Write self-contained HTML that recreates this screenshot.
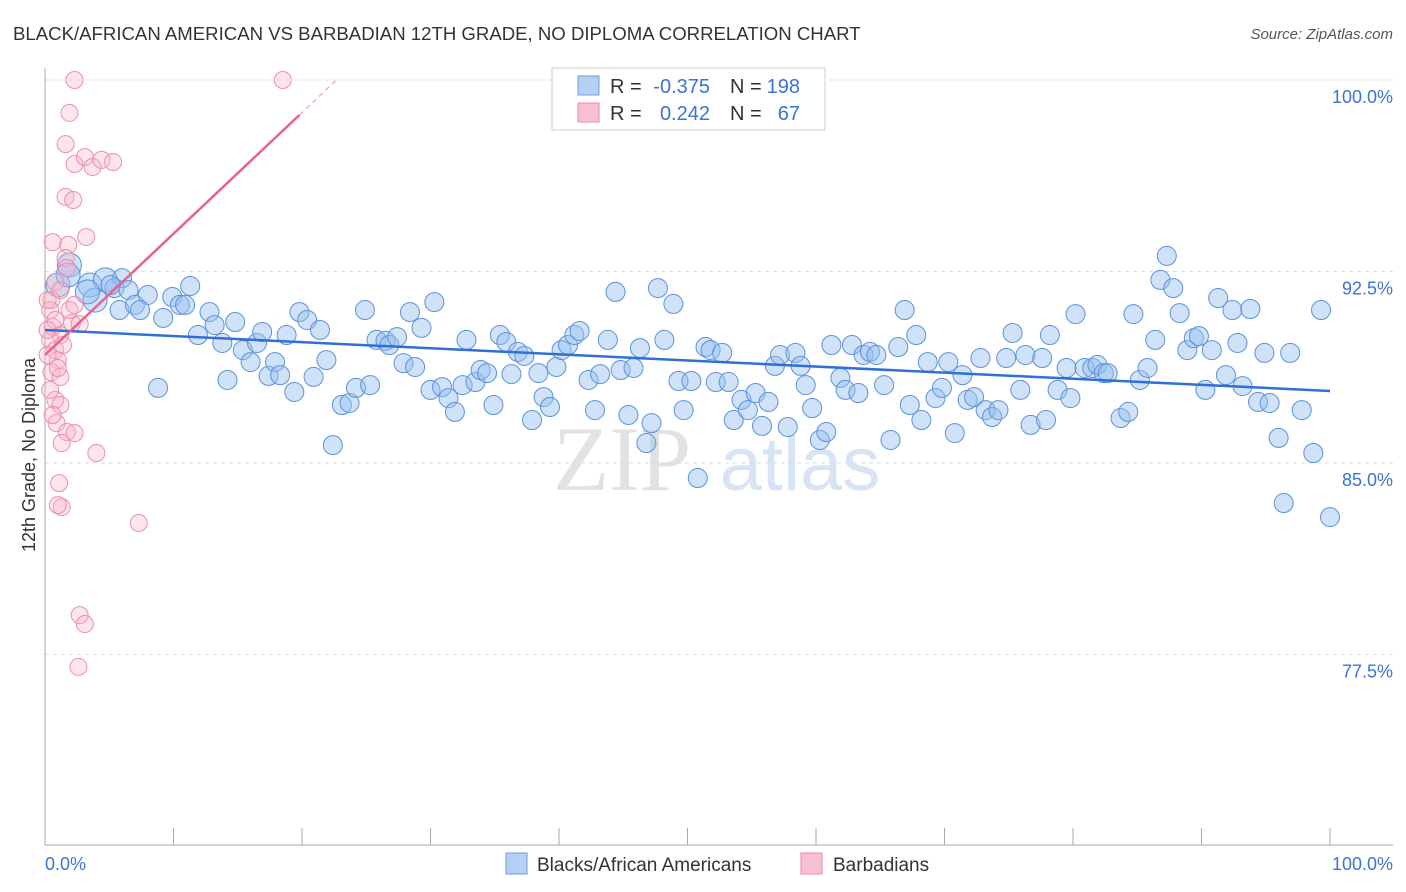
<!DOCTYPE html>
<html><head><meta charset="utf-8"><style>
body{margin:0;background:#fff;font-family:"Liberation Sans",sans-serif;}
svg{display:block}
</style></head><body>
<svg id="chart" width="1406" height="892">
<text x="13" y="40" font-size="18.6" fill="#333">BLACK/AFRICAN AMERICAN VS BARBADIAN 12TH GRADE, NO DIPLOMA CORRELATION CHART</text>
<text x="1393" y="39" font-size="15" fill="#555" font-style="italic" text-anchor="end">Source: ZipAtlas.com</text>
<g>
<text x="622" y="490" font-size="92" font-family="Liberation Serif" fill="#e2e2e2" text-anchor="middle">ZIP</text>
<text x="800" y="490" font-size="76" fill="#d6e4f4" text-anchor="middle">atlas</text>
</g>
<g id="grid"></g>
<g id="axes"></g>
<g id="pts"></g>
<g id="trends"></g>
<text transform="translate(35,455) rotate(-90)" font-size="18" fill="#333" text-anchor="middle">12th Grade, No Diploma</text>
<text x="45" y="870" font-size="18" fill="#3b74d4">0.0%</text>
<text x="1393" y="870" font-size="18" fill="#3b74d4" text-anchor="end">100.0%</text>
<g>
<rect x="552" y="68" width="273" height="62" fill="#fff" stroke="#ccc"/>
<rect x="578" y="76" width="21" height="19" fill="#b7cff3" stroke="#6c9be0"/>
<rect x="578" y="103" width="21" height="19" fill="#f8c0d0" stroke="#eb8aa8"/>
<g font-size="20" fill="#333">
<text x="610" y="93">R =</text><text x="710" y="93" text-anchor="end" fill="#3b74d4">-0.375</text>
<text x="730" y="93">N =</text><text x="800" y="93" text-anchor="end" fill="#3b74d4">198</text>
<text x="610" y="120">R =</text><text x="710" y="120" text-anchor="end" fill="#3b74d4">0.242</text>
<text x="730" y="120">N =</text><text x="800" y="120" text-anchor="end" fill="#3b74d4">67</text>
</g>
</g>
<g>
<rect x="506" y="853" width="21" height="21" fill="#b7cff3" stroke="#6c9be0"/>
<text x="537" y="871" font-size="19" fill="#333">Blacks/African Americans</text>
<rect x="801" y="853" width="21" height="21" fill="#f8c0d0" stroke="#eb8aa8"/>
<text x="833" y="871" font-size="19" fill="#333">Barbadians</text>
</g>
</svg>
<script>
const yTicks=[100,92.5,85,77.5];
const yTickLabels=["100.0%","92.5%","85.0%","77.5%"];
const xTicks=[0,10,20,30,40,50,60,70,80,90,100];
const blueX=[1.9,1.0,1.8,3.5,3.9,4.7,6.0,5.4,6.5,5.8,7.0,8.0,7.4,9.2,9.9,10.5,11.3,10.9,11.9,12.8,13.2,14.2,13.8,14.8,15.4,16.0,16.5,16.9,17.4,17.9,18.3,18.8,19.4,19.8,20.4,20.9,21.4,21.9,22.4,23.1,23.7,24.2,24.9,25.3,25.8,26.5,26.8,27.4,27.9,28.4,28.8,29.3,30.0,30.3,30.9,31.4,31.9,32.5,32.8,33.5,33.9,34.4,34.9,35.4,35.9,36.3,36.8,37.3,37.9,38.4,38.8,39.3,39.8,40.2,40.7,41.2,41.6,42.3,42.8,43.2,43.8,44.4,44.8,45.4,45.8,46.3,46.8,47.2,47.7,48.2,48.9,49.3,49.7,50.3,50.8,51.4,51.8,52.2,52.7,53.2,53.6,54.2,54.7,55.3,55.8,56.3,56.8,57.2,57.8,58.4,58.8,59.2,59.7,60.3,60.8,61.2,61.9,62.3,62.8,63.3,63.7,64.2,64.7,65.3,65.8,66.4,66.9,67.3,67.8,68.2,68.7,69.3,69.8,70.3,70.8,71.4,71.8,72.3,72.8,73.2,73.7,74.2,74.8,75.3,75.9,76.3,76.7,77.6,77.9,78.2,78.8,79.5,79.8,80.2,80.9,81.5,81.9,82.4,82.7,83.7,84.3,84.7,85.2,85.8,86.4,86.8,87.3,87.8,88.3,88.9,89.4,89.8,90.3,90.8,91.3,91.9,92.4,92.8,93.2,93.8,94.4,94.9,95.3,96.0,96.4,96.9,97.8,98.7,99.3,100.0,8.8,5.1,3.3];
const blueY=[92.75,91.97,92.36,91.97,91.38,92.17,92.24,91.85,91.77,90.99,91.19,91.58,90.99,90.68,91.50,91.19,91.93,91.19,90.01,90.91,90.40,88.25,89.70,90.52,89.42,88.95,89.70,90.13,88.41,88.95,88.44,90.01,87.78,90.91,90.60,88.37,90.21,89.03,85.70,87.27,87.35,87.94,90.99,88.05,89.82,89.78,89.62,89.93,88.91,90.91,88.76,90.29,87.86,91.30,87.97,87.54,87.00,88.05,89.82,88.17,88.64,88.52,87.27,90.01,89.74,88.48,89.35,89.19,86.68,88.52,87.58,87.19,88.76,89.42,89.62,90.01,90.17,88.25,87.07,88.48,89.82,91.70,88.64,86.88,88.72,89.50,85.78,86.56,91.85,89.82,91.23,88.21,87.07,88.21,84.41,89.54,89.42,88.17,89.31,88.17,86.68,87.47,87.07,87.74,86.45,87.39,88.80,89.23,86.41,89.31,88.80,88.05,87.15,85.90,86.21,89.62,88.33,87.86,89.62,87.74,89.23,89.35,89.23,88.05,85.90,89.54,90.99,87.27,90.01,86.68,88.95,87.54,87.94,88.95,86.17,88.44,87.47,87.58,89.11,87.07,86.80,87.07,89.11,90.09,87.86,89.23,86.49,89.11,86.68,90.01,87.86,88.72,87.54,90.83,88.72,88.72,88.84,88.52,88.52,86.76,87.00,90.83,88.25,88.72,89.82,92.17,93.11,91.85,90.87,89.42,89.89,89.97,87.86,89.42,91.46,88.44,90.99,89.70,88.01,91.03,87.39,89.31,87.35,85.98,83.43,89.31,87.07,85.39,90.99,82.88,87.94,91.97,91.70];
const pinkX=[2.3,18.5,1.9,1.6,2.3,3.1,3.7,4.4,5.3,1.6,2.2,0.6,1.8,3.2,1.6,1.7,0.8,1.2,0.5,0.6,1.2,2.1,2.7,0.4,0.8,1.0,0.5,1.2,1.0,0.8,1.2,0.9,1.7,1.3,2.3,4.0,1.1,1.3,1.0,7.3,2.7,3.1,2.6,1.9,2.3,0.4,0.2,0.8,0.2,0.2,1.4,0.4,0.6];
const pinkY=[100.0,100.0,98.71,97.49,96.71,96.98,96.59,96.87,96.79,95.42,95.30,93.65,93.54,93.85,93.03,92.64,92.09,91.77,91.38,90.33,90.01,90.48,90.44,89.82,89.42,89.03,88.56,88.37,88.72,87.47,87.27,86.56,86.21,85.78,86.17,85.39,84.21,83.27,83.35,82.65,79.04,78.69,77.01,90.99,91.19,90.99,91.38,90.60,90.21,89.23,89.62,87.86,86.88];
const blueTrend=[90.21,87.82];
const pinkTrend=[89.23,98.63];
const pinkTrendEnd=19.8;

const NS="http://www.w3.org/2000/svg";
const X=v=>45+v*12.85;
const Y=v=>80+(100-v)*25.53;
function mk(tag,attrs,parent){const e=document.createElementNS(NS,tag);for(const k in attrs)e.setAttribute(k,attrs[k]);parent.appendChild(e);return e;}
const grid=document.getElementById('grid'),axes=document.getElementById('axes'),pts=document.getElementById('pts'),tr=document.getElementById('trends');
yTicks.forEach((t,i)=>{
 const l=mk('line',{x1:45,x2:1393,y1:Y(t),y2:Y(t),stroke:'#ddd','stroke-dasharray':'4,4'},grid);
 
 
 const tx=mk('text',{x:1393,y:Y(t)+23,'font-size':18,fill:'#3b74d4','text-anchor':'end'},grid);
 tx.textContent=yTickLabels[i];
 
 
});
const al=mk('line',{x1:45,x2:45,y1:68,y2:845,stroke:'#aaa'},axes);


const bl=mk('line',{x1:45,x2:1393,y1:845,y2:845,stroke:'#aaa'},axes);


xTicks.forEach(t=>{
 const l=mk('line',{x1:X(t),x2:X(t),y1:828,y2:845,stroke:'#aaa'},axes);
 
 
});
blueX.forEach((x,i)=>{
 const r=(x<5)?12:9.5;
 const c=mk('circle',{cx:X(x),cy:Y(blueY[i]),r:r,fill:'rgba(150,190,240,0.45)',stroke:'#5b92dc','stroke-width':1},pts);
 
 
});
pinkX.forEach((x,i)=>{
 const c=mk('circle',{cx:X(x),cy:Y(pinkY[i]),r:8.5,fill:'rgba(248,180,200,0.35)',stroke:'#ec8fae','stroke-width':1},pts);
 
 
});
const bt=mk('line',{x1:X(0),y1:Y(blueTrend[0]),x2:X(100),y2:Y(blueTrend[1]),stroke:'#2f6fd6','stroke-width':2.5},tr);


const slope=(pinkTrend[1]-pinkTrend[0])/pinkTrendEnd;
const pt=mk('line',{x1:X(0),y1:Y(pinkTrend[0]),x2:X(pinkTrendEnd),y2:Y(pinkTrend[1]),stroke:'#e8628f','stroke-width':2.5},tr);


const ext=pinkTrendEnd+2.8;
const pd=mk('line',{x1:X(pinkTrendEnd),y1:Y(pinkTrend[1]),x2:X(ext),y2:Y(pinkTrend[0]+slope*ext),stroke:'#f0a0bb','stroke-width':1.2,'stroke-dasharray':'5,4'},tr);


</script>
</body></html>
